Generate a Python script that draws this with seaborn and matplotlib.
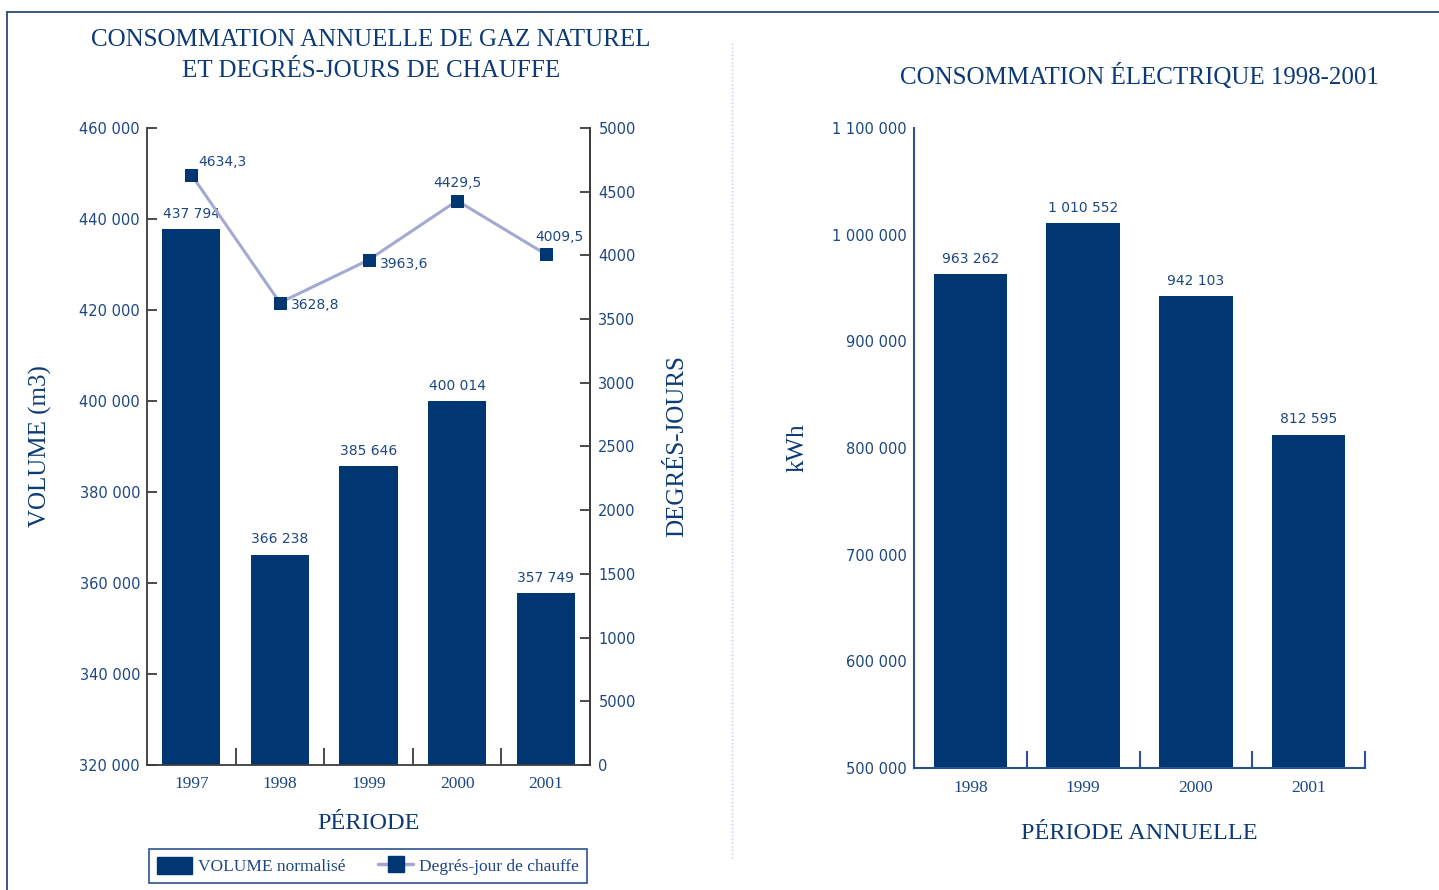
import numpy as np
import matplotlib
matplotlib.use("Agg")
import matplotlib.pyplot as plt
import seaborn as sns
from matplotlib.patches import Patch
from matplotlib.lines import Line2D

# --- donnees gaz naturel
annees_gaz = ["1997", "1998", "1999", "2000", "2001"]
volume_m3 = [437794, 366238, 385646, 400014, 357749]
etiq_volume = ["437 794", "366 238", "385 646", "400 014", "357 749"]
degres_jours = [4634.3, 3628.8, 3963.6, 4429.5, 4009.5]
etiq_degres = ["4634,3", "3628,8", "3963,6", "4429,5", "4009,5"]

vol_ticks = [320000, 340000, 360000, 380000, 400000, 420000, 440000, 460000]
vol_labels = ["320 000", "340 000", "360 000", "380 000", "400 000", "420 000", "440 000", "460 000"]
dj_ticks = [0, 500, 1000, 1500, 2000, 2500, 3000, 3500, 4000, 4500, 5000]
# l'original affiche "5000" a la graduation 500
dj_labels = ["0", "5000", "1000", "1500", "2000", "2500", "3000", "3500", "4000", "4500", "5000"]

# --- donnees electricite
annees_elec = ["1998", "1999", "2000", "2001"]
kwh = [963262, 1010552, 942103, 812595]
etiq_kwh = ["963 262", "1 010 552", "942 103", "812 595"]
kwh_ticks = [500000, 600000, 700000, 800000, 900000, 1000000, 1100000]
kwh_labels = ["500 000", "600 000", "700 000", "800 000", "900 000", "1 000 000", "1 100 000"]

navy = "#003672"
lavande = "#a3a9d2"
txt = "#1d4783"
titre_col = "#0c3a76"
gris = "#3c3c3c"
bleu_axe = "#2c5290"
serif = "Liberation Serif"

sns.set_style("white")
plt.rcParams["font.family"] = ["DejaVu Sans"]

W, H = 1439, 890
fig = plt.figure(figsize=(W / 100, H / 100), dpi=100)

# cadre du document
fig.add_artist(Line2D([7 / W, 1], [1 - 12 / H, 1 - 12 / H], transform=fig.transFigure, color="#2d4a78", lw=1.3))
fig.add_artist(Line2D([7 / W, 7 / W], [0, 1 - 12 / H], transform=fig.transFigure, color="#2d4a78", lw=1.3))
# separateur pointille
fig.add_artist(Line2D([732 / W, 732 / W], [1 - 858 / H, 1 - 43 / H], transform=fig.transFigure,
                      color="#c3c7e0", lw=1, ls=":"))

# ================= graphique gauche
ax = fig.add_axes([147 / W, 1 - 765 / H, 443 / W, 637 / H])
sns.barplot(x=annees_gaz, y=volume_m3, color=navy, saturation=1, width=0.655, linewidth=0, ax=ax)
ax.set_ylim(320000, 460000)
ax.set_yticks(vol_ticks, vol_labels)
for i, v in enumerate(volume_m3):
    ax.annotate(etiq_volume[i], xy=(i, v), xytext=(0, 6), textcoords="offset points",
                ha="center", va="bottom", fontsize=10, color=txt)

ax2 = ax.twinx()
sns.lineplot(x=np.arange(len(annees_gaz)), y=degres_jours, ax=ax2, color=lavande, lw=2.2,
             marker="s", markersize=8, markerfacecolor=navy, markeredgecolor=navy)
ax2.set_ylim(0, 5000)
ax2.set_yticks(dj_ticks, dj_labels)
decal = [(5, 4, "left", "bottom"), (8, -2, "left", "center"), (8, -3, "left", "center"),
         (0, 8, "center", "bottom"), (10, 7, "center", "bottom")]
for i, v in enumerate(degres_jours):
    dx, dy, ha, va = decal[i]
    ax2.annotate(etiq_degres[i], xy=(i, v), xytext=(dx, dy), textcoords="offset points",
                 ha=ha, va=va, fontsize=10, color=txt)

ax.set_xlim(-0.5, 4.5)
ax.set_xticks(range(len(annees_gaz)), annees_gaz)
ax.set_xticks([0.5, 1.5, 2.5, 3.5], minor=True)

for s in ["left", "bottom", "right"]:
    ax.spines[s].set_color(gris)
    ax.spines[s].set_linewidth(1.3)
ax.spines["top"].set_visible(False)
for s in ["left", "bottom", "top"]:
    ax2.spines[s].set_visible(False)
ax2.spines["right"].set_color(gris)
ax2.spines["right"].set_linewidth(1.3)

ax.tick_params(axis="y", direction="in", length=7, width=1.3, color=gris,
               labelsize=10.5, labelcolor=txt, pad=5)
ax2.tick_params(axis="y", direction="in", length=7, width=1.3, color=gris,
                labelsize=10.5, labelcolor=txt, pad=6)
ax.tick_params(axis="x", which="major", length=0, pad=8, labelsize=12.5, labelcolor=txt)
ax.tick_params(axis="x", which="minor", bottom=True, direction="in", length=12, width=1.3, color=gris)
for lb in ax.get_xticklabels():
    lb.set_fontfamily(serif)

ax.set_xlabel("PÉRIODE", fontfamily=serif, fontsize=17.5, color=titre_col, labelpad=15)
ax.set_ylabel("VOLUME (m3)", fontfamily=serif, fontsize=18, color=titre_col, labelpad=20)
ax2.set_ylabel("DEGRÉS-JOURS", fontfamily=serif, fontsize=18, color=titre_col, labelpad=22)

fig.text(371 / W, 1 - 40 / H, "CONSOMMATION ANNUELLE DE GAZ NATUREL", ha="center", va="center",
         fontfamily=serif, fontsize=18, color=titre_col)
fig.text(371 / W, 1 - 71 / H, "ET DEGRÉS-JOURS DE CHAUFFE", ha="center", va="center",
         fontfamily=serif, fontsize=18, color=titre_col)

poignees = [Patch(facecolor=navy, edgecolor=navy, label="VOLUME normalisé"),
            Line2D([], [], color=lavande, lw=2.5, marker="s", markersize=11,
                   markerfacecolor=navy, markeredgecolor=navy, label="Degrés-jour de chauffe")]
leg = fig.legend(handles=poignees, loc="center", ncol=2,
                 bbox_to_anchor=(368 / W, 1 - 866 / H),
                 frameon=True, fancybox=False, framealpha=1, borderpad=0.45,
                 handlelength=2.0, handleheight=1.1, handletextpad=0.35, columnspacing=1.9,
                 prop={"family": serif, "size": 12.5})
leg.get_frame().set_edgecolor(bleu_axe)
leg.get_frame().set_linewidth(1.2)
for t in leg.get_texts():
    t.set_color(txt)

# ================= graphique droit
ax3 = fig.add_axes([914 / W, 1 - 768 / H, 451 / W, 640 / H])
sns.barplot(x=annees_elec, y=kwh, color=navy, saturation=1, width=0.65, linewidth=0, ax=ax3)
ax3.set_ylim(500000, 1100000)
ax3.set_xlim(-0.5, 3.5)
ax3.set_yticks(kwh_ticks, kwh_labels)
ax3.set_xticks(range(len(annees_elec)), annees_elec)
ax3.set_xticks([0.5, 1.5, 2.5, 3.5], minor=True)
for i, v in enumerate(kwh):
    ax3.annotate(etiq_kwh[i], xy=(i, v), xytext=(0, 6), textcoords="offset points",
                 ha="center", va="bottom", fontsize=10, color=txt)

ax3.spines["top"].set_visible(False)
ax3.spines["right"].set_visible(False)
for s in ["left", "bottom"]:
    ax3.spines[s].set_color(bleu_axe)
    ax3.spines[s].set_linewidth(1.5)
ax3.tick_params(axis="y", direction="in", length=7, width=1.5, color=bleu_axe,
                labelsize=10.5, labelcolor=txt, pad=5)
ax3.tick_params(axis="x", which="major", length=0, pad=9, labelsize=12.5, labelcolor=txt)
ax3.tick_params(axis="x", which="minor", bottom=True, direction="in", length=12, width=1.5, color=bleu_axe)
for lb in ax3.get_xticklabels():
    lb.set_fontfamily(serif)

ax3.set_xlabel("PÉRIODE ANNUELLE", fontfamily=serif, fontsize=17.5, color=titre_col, labelpad=19)
ax3.set_ylabel("kWh", fontfamily=serif, fontsize=18, color=titre_col, labelpad=17)

fig.text(1139 / W, 1 - 76 / H, "CONSOMMATION ÉLECTRIQUE 1998-2001", ha="center", va="center",
         fontfamily=serif, fontsize=18, color=titre_col)

fig.savefig("out.png", dpi=100)
